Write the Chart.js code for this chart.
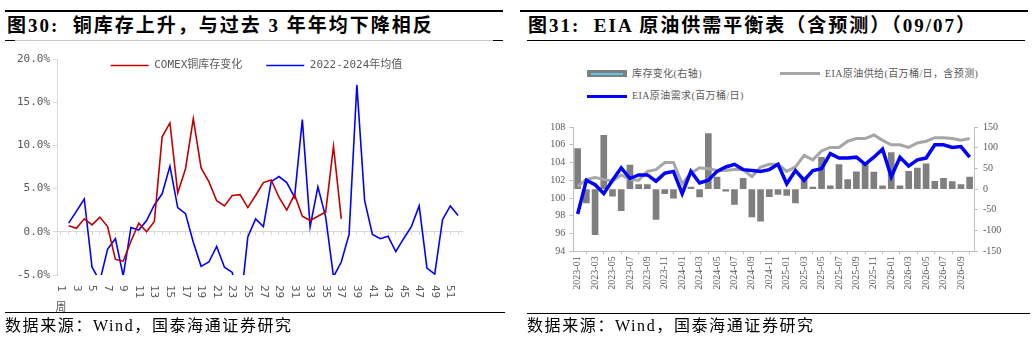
<!DOCTYPE html>
<html>
<head>
<meta charset="utf-8">
<script src="https://cdn.jsdelivr.net/npm/chart.js@4.4.1/dist/chart.umd.min.js"></script>
<style>
  body { margin: 0; width: 1034px; height: 339px; background: #fff; position: relative; overflow: hidden;
         font-family: "Liberation Serif", "Noto Sans CJK SC", serif; }
  .rule { position: absolute; height: 0; }
  .title { position: absolute; top: 14px; font-size: 19px; font-weight: bold; letter-spacing: 2px;
           line-height: 24px; white-space: nowrap; color: #000; }
  .src { position: absolute; top: 316px; font-size: 16px; letter-spacing: 1.6px; line-height: 20px; white-space: nowrap; color: #000; }
  canvas { position: absolute; }
  .lg { position: absolute; font-size: 10px; letter-spacing: 0.4px; color: #595959; line-height: 12px; white-space: nowrap; }
  .sw { position: absolute; }
</style>
</head>
<body>

<!-- left panel frame -->
<div class="rule" style="left:5px;top:10px;width:498px;border-top:2px solid #000"></div>
<div class="title" style="left:7px">图30:&nbsp; 铜库存上升，与过去 3 年年均下降相反</div>
<div class="rule" style="left:5px;top:40px;width:498px;border-top:1px solid #c8c8c8"></div>
<div class="rule" style="left:5px;top:40px;width:10px;border-top:1.5px solid #000"></div>
<div class="rule" style="left:493px;top:40px;width:10px;border-top:1.5px solid #000"></div>

<!-- right panel frame -->
<div class="rule" style="left:520px;top:10px;width:508px;border-top:2px solid #000"></div>
<div class="title" style="left:528px">图31:&nbsp; EIA 原油供需平衡表（含预测）（09/07）</div>
<div class="rule" style="left:527px;top:40px;width:498px;border-top:1.5px solid #000"></div>

<canvas id="copperChart" width="505" height="275" style="left:0;top:40px"></canvas>
<canvas id="eiaChart" width="514" height="190" style="left:520px;top:115px"></canvas>

<!-- right legend -->
<div class="sw" style="left:587px;top:70px;width:40px;height:7px;background:#7f7f7f"></div>
<div class="sw" style="left:591px;top:72.5px;width:32px;height:2px;background:#5bc4ec"></div>
<div class="lg" style="left:632px;top:67.5px">库存变化(右轴)</div>
<div class="sw" style="left:780px;top:72px;width:40px;height:3px;background:#a6a6a6"></div>
<div class="lg" style="left:825px;top:67.5px">EIA原油供给(百万桶/日，含预测)</div>
<div class="sw" style="left:587px;top:94.5px;width:40px;height:3.5px;background:#0000ff"></div>
<div class="lg" style="left:632px;top:90px">EIA原油需求(百万桶/日)</div>

<!-- sources -->
<div class="rule" style="left:5px;top:312px;width:500px;border-top:1.5px solid #000"></div>
<div class="src" style="left:5px">数据来源：Wind，国泰海通证券研究</div>
<div class="rule" style="left:527px;top:313px;width:503px;border-top:1.5px solid #000"></div>
<div class="src" style="left:527px">数据来源：Wind，国泰海通证券研究</div>

<script>
// ---- figure 30: weekly copper inventory change (%)
const weeks = ['1周','2','3','4','5','6','7','8','9','10','11','12','13','14','15','16','17','18',
  '19','20','21','22','23','24','25','26','27','28','29','30','31','32','33','34','35','36',
  '37','38','39','40','41','42','43','44','45','46','47','48','49','50','51','52'];

const comexChange = [null, 0.7, 0.4, 1.5, 0.8, 1.7, 0.6, -3.2, -3.4, -1.1, 1.0, 0.0, 1.2, 11.0,
  12.6, 4.5, 7.3, 13.1, 7.4, 5.8, 3.6, 3.0, 4.2, 4.3, 2.8, 4.2, 5.7, 6.0, 4.0, 2.5, 4.3, 1.8,
  1.3, 1.8, 2.3, 9.9, 1.5];

const avg2022to2024 = [null, 1.0, 2.4, 3.8, -4.1, -5.7, -2.0, -0.8, -5.1, 0.5, 0.2, 1.3, 3.1,
  4.4, 7.6, 2.8, 2.1, -1.2, -4.0, -3.5, -1.7, -4.1, -4.7, -9.0, -0.6, 1.5, 0.6, 5.8, 6.4, 5.7,
  4.0, 13.0, 0.6, 5.2, 1.7, -5.2, -3.5, -0.3, 17.0, 3.6, -0.3, -0.8, -0.5, -2.3, -0.8, 0.6,
  3.0, -4.2, -4.9, 1.4, 3.0, 1.9];

// ---- figure 31: EIA balance
const months = ['2023-01','2023-02','2023-03','2023-04','2023-05','2023-06','2023-07','2023-08',
  '2023-09','2023-10','2023-11','2023-12','2024-01','2024-02','2024-03','2024-04','2024-05',
  '2024-06','2024-07','2024-08','2024-09','2024-10','2024-11','2024-12','2025-01','2025-02',
  '2025-03','2025-04','2025-05','2025-06','2025-07','2025-08','2025-09','2025-10','2025-11',
  '2025-12','2026-01','2026-02','2026-03','2026-04','2026-05','2026-06','2026-07','2026-08',
  '2026-09','2026-10'];

const stockChange = [98, -33, -110, 130, -17, -52, 58, 11, 11, -73, -11, -22, -2, 5, -19, 134,
  29, -5, -37, 26, -67, -77, -18, -13, -15, -33, 24, 5, 77, 8, 59, 23, 42, 61, 41, 8, 88, 8,
  43, 51, 61, 19, 26, 18, 11, 29];

const eiaSupply = [101.3, 102.1, 102.3, 102.1, 101.9, 102.6, 102.1, 102.0, 103.0, 103.2, 104.0,
  104.0, 101.6, 102.8, 103.4, 103.3, 103.1, 103.1, 103.2, 103.2, 102.4, 103.5, 103.8, 103.8,
  103.0, 103.5, 104.8, 104.3, 105.3, 105.7, 105.7, 106.4, 106.7, 106.7, 107.1, 106.5, 106.0,
  106.0, 105.7, 106.2, 106.4, 106.8, 106.8, 106.7, 106.5, 106.7];

const eiaDemand = [98.2, 102.0, 101.5, 100.5, 102.0, 103.4, 102.2, 102.6, 102.6, 101.9, 102.8,
  103.0, 100.5, 103.0, 101.7, 102.0, 103.0, 103.5, 103.8, 103.2, 103.1, 103.0, 103.2, 103.8,
  101.6, 103.1, 102.0, 103.1, 103.3, 105.0, 104.5, 104.5, 104.6, 103.8, 104.6, 105.5, 102.4,
  104.6, 103.6, 104.3, 104.5, 106.0, 106.0, 105.7, 105.8, 104.6];

const grey = '#595959';
const monoFont = { family: '"DejaVu Sans Mono", "Noto Sans CJK SC"', size: 11 };
const serifFont = { family: '"Liberation Serif", "Noto Sans CJK SC"', size: 10 };

// legend sits inside the plot: take it out of the layout and pin it near the top
const legendInPlot = {
  id: 'legendInPlot',
  beforeInit(chart) {
    const lg = chart.legend;
    const fit = lg.fit;
    lg.fit = function () { fit.call(this); this.height = 0; };
  },
  afterLayout(chart) {
    const lg = chart.legend;
    lg.left = 8;
    lg.right = chart.width;
    lg.top = -4;
    lg.bottom = 45;
  }
};

// week labels written vertically, like the original (digits turned, 周 upright)
const weekLabels = {
  id: 'weekLabels',
  afterDraw(chart) {
    const { ctx, chartArea, scales: { x } } = chart;
    const top = chartArea.bottom + 10;
    ctx.save();
    ctx.fillStyle = grey;
    weeks.forEach((w, i) => {
      if (i % 2) return;
      const num = w.replace('周', '');
      const px = x.getPixelForValue(i);
      ctx.font = '11px "DejaVu Sans Mono"';
      const numW = ctx.measureText(num).width;
      ctx.save();
      ctx.translate(px, top);
      ctx.rotate(Math.PI / 2);
      ctx.textAlign = 'left';
      ctx.textBaseline = 'middle';
      ctx.fillText(num, 0, 0);
      ctx.restore();
      if (num !== w) {
        ctx.font = '11px "Noto Sans CJK SC"';
        ctx.textAlign = 'center';
        ctx.textBaseline = 'top';
        ctx.fillText('周', px, top + numW + 10);
      }
    });
    ctx.restore();
  }
};

new Chart(document.getElementById('copperChart'), {
  type: 'line',
  data: {
    labels: weeks,
    datasets: [{
      label: 'COMEX铜库存变化',
      data: comexChange,
      borderColor: '#c00000',
      backgroundColor: '#c00000',
      borderWidth: 1.6,
      pointRadius: 0,
      fill: false
    }, {
      label: '2022-2024年均值',
      data: avg2022to2024,
      borderColor: '#0000ff',
      backgroundColor: '#0000ff',
      borderWidth: 1.6,
      pointRadius: 0,
      fill: false
    }]
  },
  options: {
    responsive: false,
    animation: false,
    layout: { padding: { top: 19, right: 43, bottom: 40, left: 0 } },
    plugins: {
      tooltip: { enabled: false },
      legend: {
        labels: {
          usePointStyle: true,
          pointStyle: 'line',
          pointStyleWidth: 38,
          padding: 24,
          color: grey,
          font: monoFont
        }
      }
    },
    scales: {
      x: {
        position: { y: 0 },
        offset: true,
        ticks: { display: false },
        grid: { drawOnChartArea: false, tickLength: 3, color: '#d9d9d9' },
        border: { color: '#d9d9d9' }
      },
      y: {
        min: -5,
        max: 20,
        ticks: { stepSize: 5, color: grey, font: monoFont, padding: 3,
                 callback: v => v.toFixed(1) + '%' },
        grid: { drawOnChartArea: false, tickLength: 4, color: '#d9d9d9' },
        border: { color: '#d9d9d9' },
        afterFit(s) { s.width = 57; }
      }
    }
  },
  plugins: [legendInPlot, weekLabels]
});

new Chart(document.getElementById('eiaChart'), {
  type: 'bar',
  data: {
    labels: months,
    datasets: [{
      type: 'line',
      label: 'EIA原油需求(百万桶/日)',
      data: eiaDemand,
      yAxisID: 'y',
      borderColor: '#0000ff',
      borderWidth: 3.5,
      pointRadius: 0,
      order: 1
    }, {
      type: 'line',
      label: 'EIA原油供给(百万桶/日，含预测)',
      data: eiaSupply,
      yAxisID: 'y',
      borderColor: '#a6a6a6',
      borderWidth: 3,
      pointRadius: 0,
      order: 2
    }, {
      type: 'bar',
      label: '库存变化(右轴)',
      data: stockChange,
      yAxisID: 'y1',
      backgroundColor: '#7f7f7f',
      borderWidth: 0,
      barThickness: 6,
      order: 3
    }]
  },
  options: {
    responsive: false,
    animation: false,
    layout: { padding: { top: 12, right: 0, bottom: 0, left: 0 } },
    plugins: { legend: { display: false }, tooltip: { enabled: false } },
    scales: {
      x: {
        offset: true,
        grid: { offset: true, drawOnChartArea: false, tickLength: 3, color: '#bfbfbf' },
        border: { color: '#bfbfbf' },
        ticks: {
          autoSkip: false, minRotation: 90, maxRotation: 90, padding: 2,
          color: grey, font: serifFont,
          callback: (v, i) => (i % 2 ? null : months[i])
        },
        afterFit(s) { s.height = 53.7; }
      },
      y: {
        position: 'left',
        min: 94,
        max: 108,
        ticks: { stepSize: 2, color: grey, font: serifFont, padding: 4 },
        grid: { drawOnChartArea: false, tickLength: 4, color: '#bfbfbf' },
        border: { color: '#bfbfbf' },
        afterFit(s) { s.width = 53.3; }
      },
      y1: {
        position: 'right',
        min: -150,
        max: 150,
        ticks: { stepSize: 50, color: grey, font: serifFont, padding: 5 },
        grid: { drawOnChartArea: false, tickLength: 4, color: '#bfbfbf' },
        border: { color: '#bfbfbf' },
        afterFit(s) { s.width = 60; }
      }
    }
  }
});
</script>
</body>
</html>
